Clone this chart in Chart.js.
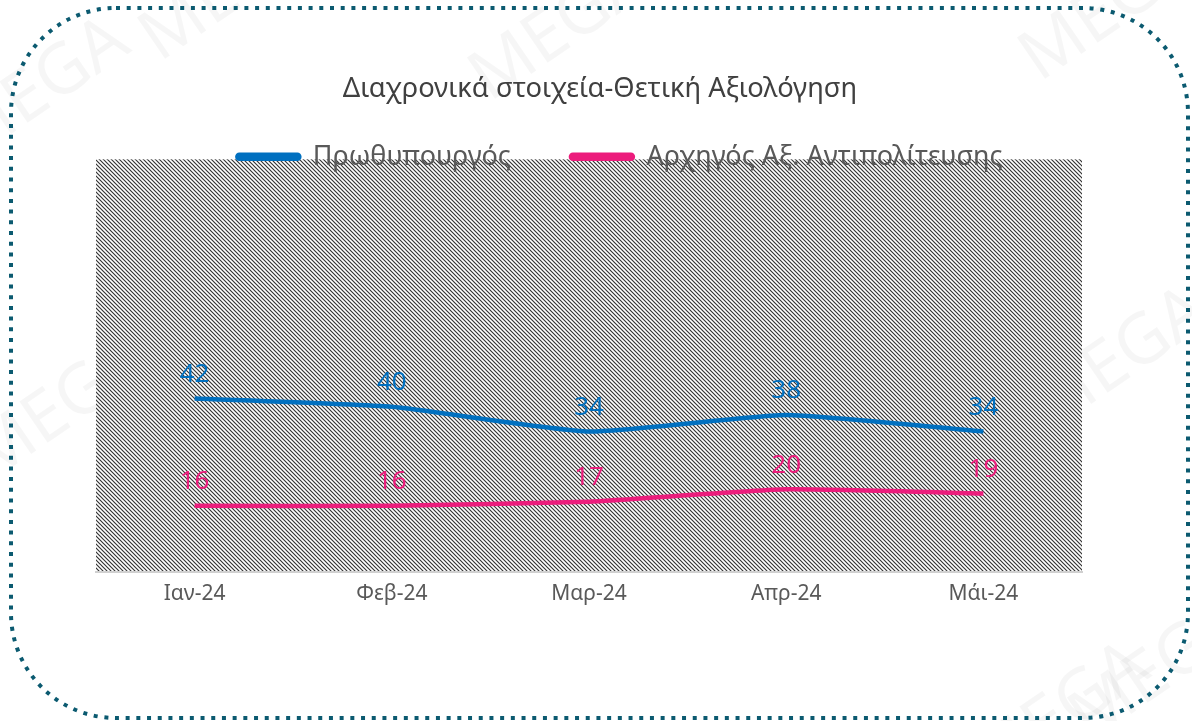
<!DOCTYPE html>
<html>
<head>
<meta charset="utf-8">
<script src="https://cdn.jsdelivr.net/npm/chart.js@4.4.1/dist/chart.umd.min.js"></script>
<style>
  html, body { margin: 0; padding: 0; background: #fff; }
  #wrap { width: 1192px; height: 721px; position: relative; }
</style>
</head>
<body>
<div id="wrap"><canvas id="trendChart" width="1192" height="721"></canvas></div>
<script>
// Chart data
const months = ['Ιαν-24', 'Φεβ-24', 'Μαρ-24', 'Απρ-24', 'Μάι-24'];
const pmValues = [42, 40, 34, 38, 34];          // Πρωθυπουργός
const oppValues = [16, 16, 17, 20, 19];         // Αρχηγός Αξ. Αντιπολίτευσης
const seriesNames = ['Πρωθυπουργός', 'Αρχηγός Αξ. Αντιπολίτευσης'];
const chartTitle = 'Διαχρονικά στοιχεία-Θετική Αξιολόγηση';

const FONT = '"Noto Sans", "Open Sans", sans-serif';
const blue = '#0070C0';
const pink = '#EC1C7C';

// diagonal hatch used as plot background
function makeHatch() {
    const c = document.createElement('canvas');
    c.width = 4; c.height = 4;
    const g = c.getContext('2d');
    g.fillStyle = '#fff';
    g.fillRect(0, 0, 4, 4);
    g.strokeStyle = '#333';
    g.lineWidth = 1.15;
    g.beginPath();
    g.moveTo(-1, -1); g.lineTo(5, 5);
    g.moveTo(-1, 3); g.lineTo(1, 5);
    g.moveTo(3, -1); g.lineTo(5, 1);
    g.stroke();
    return g.createPattern(c, 'repeat');
}

// faint watermark spots
const marks = [[230, -10], [560, 30], [1110, 10], [60, 410], [40, 90], [1120, 360], [1160, 670], [1060, 715]];

const backgroundPlugin = {
    id: 'background',
    beforeDraw(chart) {
        const ctx = chart.ctx;
        const area = chart.chartArea;
        const y = chart.scales.y;
        ctx.save();
        ctx.fillStyle = '#fff';
        ctx.fillRect(0, 0, chart.width, chart.height);
        // watermark
        ctx.fillStyle = 'rgba(0,0,0,0.035)';
        ctx.font = '70px ' + FONT;
        ctx.textAlign = 'center';
        ctx.textBaseline = 'middle';
        marks.forEach(([mx, my]) => {
            ctx.save();
            ctx.translate(mx, my);
            ctx.rotate(-0.6);
            ctx.fillText('MEGA', 0, 0);
            ctx.restore();
        });
        // hatched plot area
        ctx.fillStyle = makeHatch();
        const top = y.getPixelForValue(100);
        const bottom = y.getPixelForValue(0);
        ctx.fillRect(area.left, top, area.right - area.left, bottom - top);
        ctx.restore();
    },
    afterDraw(chart) {
        // dotted rounded frame
        const ctx = chart.ctx;
        ctx.save();
        ctx.strokeStyle = '#0B5A70';
        ctx.lineWidth = 4;
        ctx.setLineDash([4, 6.7]);
        ctx.lineCap = 'butt';
        ctx.beginPath();
        ctx.roundRect(11, 8, 1177, 710, 105);
        ctx.stroke();
        ctx.restore();
    }
};

// value labels above points
const valueLabels = {
    id: 'valueLabels',
    afterDatasetsDraw(chart) {
        const ctx = chart.ctx;
        ctx.save();
        ctx.font = '26px ' + FONT;
        ctx.textAlign = 'center';
        ctx.textBaseline = 'middle';
        chart.data.datasets.forEach((ds, i) => {
            const meta = chart.getDatasetMeta(i);
            ctx.fillStyle = ds.borderColor;
            meta.data.forEach((pt, j) => {
                ctx.fillText(ds.data[j], pt.x, pt.y - 24);
            });
        });
        ctx.restore();
    }
};

// let legend overlap the top of the plot, and nudge legend/title right
const legendOverlap = {
    id: 'legendOverlap',
    beforeInit(chart) {
        const fit = chart.legend.fit;
        chart.legend.fit = function () {
            fit.bind(chart.legend)();
            this.height = 76;
        };
    },
    afterLayout(chart) {
        const lg = chart.legend;
        lg.left += 31;
        lg.right += 31;
        lg.bottom += 40;   // avoid clipping the text
        lg.height += 40;
        const tt = chart.titleBlock;
        if (tt) {
            tt.left += 11;
            tt.right += 11;
        }
    }
};

const ctx = document.getElementById('trendChart').getContext('2d');
const trendChart = new Chart(ctx, {
    type: 'line',
    data: {
        labels: months,
        datasets: [{
            label: seriesNames[0],
            data: pmValues,
            borderColor: blue,
            backgroundColor: blue,
            borderWidth: 4.5,
            pointRadius: 0,
            tension: 0.15
        }, {
            label: seriesNames[1],
            data: oppValues,
            borderColor: pink,
            backgroundColor: pink,
            borderWidth: 4.5,
            pointRadius: 0,
            tension: 0.15
        }]
    },
    options: {
        responsive: false,
        animation: false,
        layout: { padding: { left: 96, right: 110, top: 0, bottom: 112 } },
        plugins: {
            title: {
                display: true,
                text: chartTitle,
                color: '#404040',
                font: { family: FONT, size: 27.3, weight: 'normal' },
                padding: { top: 73, bottom: -22.4 }
            },
            legend: {
                display: true,
                labels: {
                    color: '#595959',
                    font: { family: FONT, size: 27 },
                    boxWidth: 62,
                    boxHeight: 4,
                    useBorderRadius: true,
                    borderRadius: 2,
                    padding: 60
                }
            },
            tooltip: { enabled: false }
        },
        scales: {
            x: {
                offset: true,
                grid: { display: false },
                border: { display: true, color: '#d0d0d0', width: 2 },
                ticks: {
                    color: '#595959',
                    font: { family: FONT, size: 21 },
                    padding: 2
                }
            },
            y: {
                display: false,
                min: 0,
                max: 100
            }
        }
    },
    plugins: [backgroundPlugin, valueLabels, legendOverlap]
});
</script>
</body>
</html>
